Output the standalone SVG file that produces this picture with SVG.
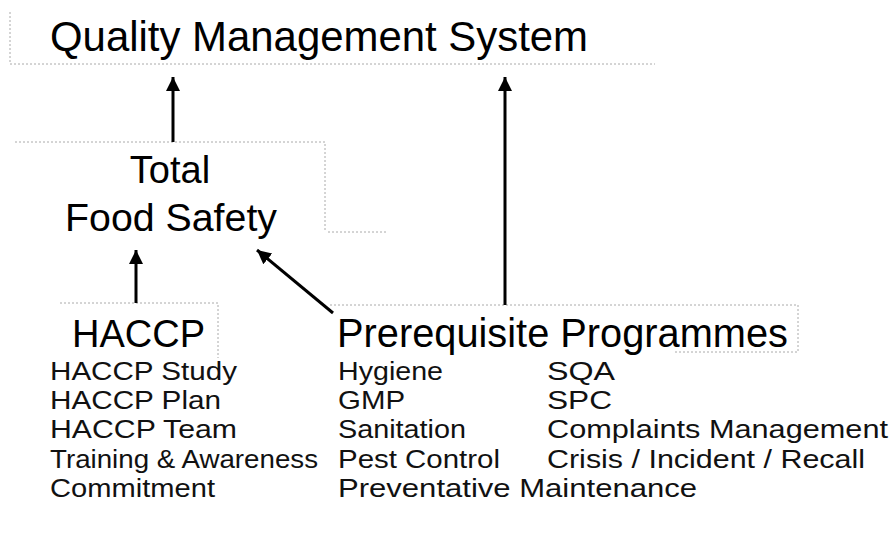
<svg xmlns="http://www.w3.org/2000/svg" width="892" height="549" viewBox="0 0 892 549">
<style>
text{font-family:"Liberation Sans",Arial,sans-serif;fill:#000}
.big{font-size:42px}
.mid{font-size:38px}
.item{font-size:25px;fill:#111}
.box{fill:none;stroke:#aaa;stroke-width:1;stroke-dasharray:2 2}
.conn{stroke:#000;stroke-width:3;fill:none;marker-end:url(#ah)}
</style>
<defs>
<marker id="ah" markerUnits="userSpaceOnUse" markerWidth="14" markerHeight="16" refX="14" refY="7" orient="auto">
<path d="M0,0 L14,7 L0,14 Z" fill="#000"/>
</marker>
</defs>
<rect width="892" height="549" fill="#fff"/>
<g id="qms">
<path class="box" d="M10 12 V64 H655"/>
<text class="big" x="50" y="51" textLength="538" lengthAdjust="spacingAndGlyphs">Quality Management System</text>
</g>
<g id="tfs">
<path class="box" d="M15 142 H325 V230 M328 232 H388"/>
<text class="mid" x="170" y="183" text-anchor="middle">Total</text>
<text class="mid" x="171" y="231" text-anchor="middle" textLength="212" lengthAdjust="spacingAndGlyphs">Food Safety</text>
</g>
<g id="haccp">
<path class="box" d="M60 303 H218 V358"/>
<text class="mid" x="72" y="347" textLength="133" lengthAdjust="spacingAndGlyphs">HACCP</text>
<text class="item" x="50" y="380" textLength="187" lengthAdjust="spacingAndGlyphs">HACCP Study</text>
<text class="item" x="50" y="409" textLength="171" lengthAdjust="spacingAndGlyphs">HACCP Plan</text>
<text class="item" x="50" y="438" textLength="187" lengthAdjust="spacingAndGlyphs">HACCP Team</text>
<text class="item" x="50" y="468" textLength="268" lengthAdjust="spacingAndGlyphs">Training &amp; Awareness</text>
<text class="item" x="50" y="497" textLength="165" lengthAdjust="spacingAndGlyphs">Commitment</text>
</g>
<g id="prp">
<path class="box" d="M330 305 H798 V352 H673"/>
<text class="mid" x="337" y="347" style="font-size:40px" textLength="451" lengthAdjust="spacingAndGlyphs">Prerequisite Programmes</text>
<text class="item" x="338" y="380" textLength="105" lengthAdjust="spacingAndGlyphs">Hygiene</text>
<text class="item" x="338" y="409" textLength="67" lengthAdjust="spacingAndGlyphs">GMP</text>
<text class="item" x="338" y="438" textLength="128" lengthAdjust="spacingAndGlyphs">Sanitation</text>
<text class="item" x="338" y="468" textLength="162" lengthAdjust="spacingAndGlyphs">Pest Control</text>
<text class="item" x="338" y="497" textLength="359" lengthAdjust="spacingAndGlyphs">Preventative Maintenance</text>
<text class="item" x="547" y="380" textLength="68" lengthAdjust="spacingAndGlyphs">SQA</text>
<text class="item" x="547" y="409" textLength="65" lengthAdjust="spacingAndGlyphs">SPC</text>
<text class="item" x="547" y="438" textLength="341" lengthAdjust="spacingAndGlyphs">Complaints Management</text>
<text class="item" x="547" y="468" textLength="318" lengthAdjust="spacingAndGlyphs">Crisis / Incident / Recall</text>
</g>
<g id="connectors">
<line class="conn" x1="173" y1="142" x2="173" y2="77"/>
<line class="conn" x1="505" y1="305" x2="505" y2="77"/>
<line class="conn" x1="136" y1="303" x2="136" y2="250"/>
<line class="conn" x1="333" y1="313" x2="257" y2="250"/>
</g>
</svg>
